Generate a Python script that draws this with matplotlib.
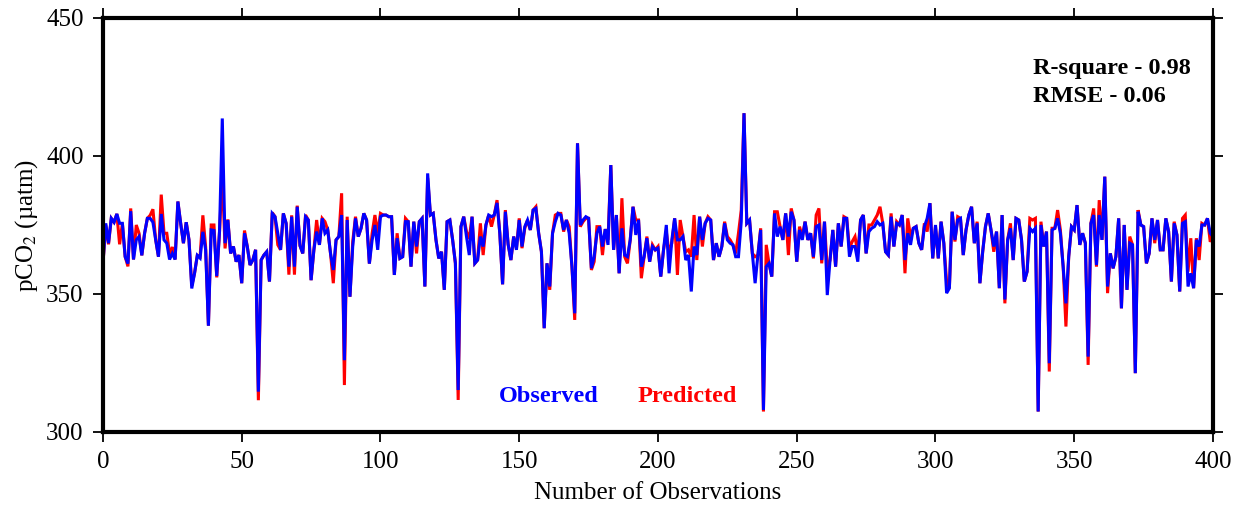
import numpy as np
import matplotlib
matplotlib.use("Agg")
import matplotlib.pyplot as plt

plt.rcParams['font.family'] = ['Liberation Serif', 'DejaVu Serif']
plt.rcParams['mathtext.fontset'] = 'stix'

observed = [
    361.0, 375.6, 368.4, 377.4, 376.0, 379.0, 375.6, 375.6, 363.5, 361.0,
    380.0, 362.5, 369.6, 370.8, 364.0, 372.0, 377.4, 377.4, 376.0, 369.6,
    363.5, 379.0, 369.6, 368.4, 362.5, 364.7, 362.5, 383.5, 375.6, 368.4,
    376.0, 369.6, 352.0, 357.5, 364.0, 363.0, 372.5, 366.0, 338.5, 373.2,
    373.0, 356.5, 372.6, 413.6, 368.4, 376.8, 364.7, 367.2, 361.7, 364.1,
    353.9, 372.0, 367.2, 360.5, 362.3, 366.0, 314.6, 362.3, 364.1, 365.3,
    354.5, 379.2, 378.0, 372.0, 366.0, 379.2, 375.6, 359.9, 378.0, 359.9,
    381.6, 367.5, 364.7, 378.0, 376.8, 355.0, 366.0, 372.6, 367.8, 377.4,
    372.0, 373.2, 364.7, 358.7, 369.6, 370.8, 378.6, 326.0, 376.8, 349.0,
    367.2, 377.4, 370.8, 373.8, 379.2, 376.8, 361.0, 369.6, 375.0, 366.0,
    378.0, 378.6, 378.6, 378.0, 378.0, 356.9, 370.2, 362.9, 363.5, 376.2,
    376.2, 359.9, 376.2, 367.2, 376.2, 377.4, 352.7, 393.7, 378.6, 379.2,
    369.6, 362.9, 365.3, 351.5, 376.2, 376.8, 369.6, 361.1, 315.2, 374.4,
    378.0, 370.8, 364.1, 378.0, 361.1, 362.3, 370.8, 367.2, 375.0, 378.6,
    378.0, 378.6, 383.0, 372.0, 353.5, 379.8, 368.0, 362.3, 370.8, 366.0,
    376.8, 367.2, 374.4, 376.8, 373.2, 380.4, 381.0, 372.0, 365.3, 337.6,
    361.1, 352.7, 372.0, 376.2, 379.2, 378.6, 373.2, 376.8, 372.0, 359.9,
    343.0, 404.6, 375.0, 376.8, 378.0, 377.4, 359.3, 363.5, 372.0, 374.4,
    367.2, 373.5, 367.8, 396.7, 366.0, 378.6, 357.5, 373.8, 364.1, 363.5,
    369.6, 381.6, 371.4, 376.8, 359.9, 363.5, 370.2, 361.7, 367.2, 366.0,
    366.6, 356.3, 366.0, 375.0, 357.5, 369.6, 377.4, 369.6, 369.6, 370.8,
    362.3, 364.1, 350.9, 367.2, 364.1, 378.0, 369.6, 375.6, 377.4, 376.8,
    362.3, 368.4, 363.5, 367.2, 375.6, 369.6, 368.4, 367.8, 363.5, 363.5,
    376.2, 415.5, 375.6, 376.8, 364.7, 353.9, 364.1, 373.2, 308.0, 359.9,
    361.1, 356.3, 379.2, 370.8, 374.4, 369.6, 379.2, 370.8, 379.8, 376.8,
    361.7, 373.2, 369.6, 376.2, 369.6, 372.0, 363.5, 374.4, 375.0, 362.3,
    376.2, 349.6, 362.3, 373.2, 359.9, 375.6, 367.2, 377.4, 377.4, 363.5,
    367.2, 367.2, 361.7, 376.8, 378.6, 364.7, 372.6, 373.8, 374.4, 376.2,
    375.0, 375.6, 365.3, 364.1, 378.0, 367.2, 375.6, 375.0, 378.6, 362.3,
    372.0, 367.8, 373.8, 374.4, 368.4, 366.0, 374.4, 377.4, 382.9, 362.9,
    375.0, 362.9, 376.2, 368.4, 350.3, 352.1, 379.8, 369.6, 376.8, 377.4,
    364.1, 373.2, 378.6, 381.6, 368.4, 375.6, 353.9, 365.3, 374.4, 379.2,
    373.2, 367.2, 372.6, 352.1, 378.6, 348.0, 369.6, 373.8, 362.3, 377.4,
    376.8, 369.6, 354.5, 358.1, 373.8, 372.6, 373.8, 307.4, 375.0, 367.2,
    372.6, 324.9, 373.2, 373.8, 377.4, 372.0, 359.9, 346.6, 363.5, 374.4,
    373.2, 382.2, 367.8, 372.0, 368.4, 327.3, 375.6, 378.6, 360.5, 378.6,
    369.6, 392.5, 352.7, 364.7, 359.3, 363.5, 377.4, 344.8, 375.0, 351.5,
    368.4, 367.8, 321.3, 379.8, 375.0, 374.4, 361.1, 364.7, 377.4, 369.6,
    376.8, 366.0, 366.0, 377.4, 372.6, 354.5, 375.6, 371.4, 350.9, 375.6,
    376.2, 352.7, 357.5, 352.1, 369.6, 367.2, 375.0, 375.0, 377.4, 372.0,
    370.8,
]

predicted = [
    361.0, 375.0, 368.0, 377.4, 376.0, 379.0, 368.0, 375.6, 363.5, 360.0,
    381.0, 362.5, 375.0, 372.0, 364.0, 372.0, 377.4, 378.5, 380.7, 369.6,
    363.5, 386.0, 372.0, 372.0, 364.5, 367.0, 362.5, 383.5, 375.6, 368.4,
    376.0, 369.6, 353.0, 357.5, 364.0, 363.5, 378.5, 367.0, 338.5, 375.0,
    375.0, 356.0, 372.6, 393.0, 366.5, 377.0, 364.7, 367.2, 361.7, 364.1,
    353.9, 373.0, 367.2, 360.5, 362.3, 366.0, 311.5, 362.3, 364.1, 365.3,
    354.5, 379.5, 378.0, 367.8, 366.0, 379.2, 375.6, 357.0, 378.5, 357.0,
    382.0, 367.5, 364.7, 378.6, 376.8, 355.0, 366.0, 376.8, 367.8, 377.4,
    376.2, 373.2, 364.7, 353.9, 369.6, 370.8, 386.5, 317.0, 378.0, 349.0,
    369.0, 378.0, 370.8, 373.8, 379.2, 376.8, 361.0, 372.0, 378.6, 372.0,
    379.2, 378.6, 378.6, 378.0, 378.0, 356.9, 372.0, 362.9, 363.5, 377.4,
    376.2, 359.9, 376.2, 364.7, 376.2, 377.4, 352.7, 392.0, 378.6, 379.2,
    369.6, 362.9, 365.3, 351.5, 376.2, 376.8, 369.6, 361.1, 311.6, 374.4,
    378.0, 372.6, 370.0, 378.0, 361.1, 362.3, 375.6, 364.1, 375.0, 378.6,
    374.4, 378.6, 384.0, 372.0, 353.5, 380.4, 368.0, 362.3, 370.8, 366.5,
    377.4, 366.6, 373.8, 376.8, 373.2, 380.4, 381.6, 372.0, 365.3, 337.6,
    361.1, 351.5, 372.0, 378.6, 379.2, 379.2, 372.6, 376.8, 374.4, 359.9,
    340.6, 404.6, 374.4, 376.2, 377.4, 377.4, 358.7, 361.7, 374.4, 374.4,
    364.1, 373.5, 369.6, 396.7, 366.0, 378.6, 357.5, 384.7, 363.5, 361.1,
    369.6, 381.6, 376.8, 376.8, 355.7, 363.5, 370.8, 361.7, 367.8, 366.0,
    367.2, 356.3, 366.0, 372.6, 365.0, 368.4, 377.4, 356.9, 376.8, 370.8,
    365.3, 366.0, 363.5, 378.6, 362.3, 378.0, 367.2, 375.6, 378.0, 376.8,
    362.3, 368.4, 363.5, 367.2, 376.2, 370.8, 369.6, 367.8, 364.7, 372.0,
    380.4, 415.5, 375.6, 376.8, 364.7, 363.5, 364.1, 373.8, 307.4, 367.8,
    361.1, 356.3, 379.8, 379.8, 374.4, 369.6, 379.2, 364.1, 381.0, 376.8,
    361.7, 374.4, 370.8, 376.2, 369.6, 372.0, 362.9, 378.6, 381.0, 361.1,
    376.2, 358.7, 362.3, 373.2, 359.9, 375.6, 367.2, 378.0, 377.4, 366.6,
    369.0, 370.8, 364.7, 376.8, 378.6, 364.7, 375.0, 375.0, 376.8, 378.6,
    381.6, 375.6, 365.3, 364.1, 379.2, 367.2, 376.2, 375.0, 378.6, 357.5,
    377.4, 370.8, 373.8, 374.4, 368.4, 366.0, 375.6, 372.6, 382.9, 362.9,
    374.4, 362.9, 376.2, 368.4, 354.5, 352.1, 379.8, 369.0, 378.0, 377.4,
    364.1, 373.2, 378.6, 381.6, 368.4, 376.2, 353.9, 365.3, 374.4, 379.2,
    373.2, 365.3, 372.6, 352.1, 378.6, 346.6, 369.6, 375.6, 362.3, 377.4,
    376.8, 369.6, 354.5, 358.1, 377.4, 376.8, 377.4, 307.4, 376.2, 367.2,
    372.6, 321.9, 373.8, 373.8, 380.4, 373.2, 359.9, 338.2, 363.5, 374.4,
    373.2, 382.2, 367.8, 372.0, 368.4, 324.3, 375.6, 381.0, 359.9, 384.0,
    369.6, 392.5, 350.3, 364.7, 359.3, 363.5, 377.4, 344.8, 375.0, 351.5,
    370.8, 367.8, 321.3, 380.4, 375.0, 374.4, 361.1, 364.7, 377.4, 368.4,
    376.8, 366.0, 366.0, 377.4, 372.6, 354.5, 376.2, 371.4, 350.9, 377.4,
    378.6, 358.1, 370.2, 352.1, 370.2, 362.3, 375.6, 375.0, 377.4, 368.9,
    370.8,
]

x_ticks = [0, 50, 100, 150, 200, 250, 300, 350, 400]
y_ticks = [300, 350, 400, 450]

obs_idx = np.arange(len(observed))

fig = plt.figure(figsize=(12.36, 5.07), dpi=100)
ax = fig.add_axes([0.0833, 0.148, 0.8981, 0.8165])

ax.plot(obs_idx, predicted, color='#ff0000', lw=2.2, solid_joinstyle='miter')
ax.plot(obs_idx, observed, color='#0000ff', lw=2.2, solid_joinstyle='miter')

ax.set_xlim(0, 400)
ax.set_ylim(300, 450)
ax.set_xticks(x_ticks)
ax.set_yticks(y_ticks)

for side in ['left', 'right', 'top', 'bottom']:
    ax.spines[side].set_linewidth(3)
    ax.spines[side].set_color('black')

ax.tick_params(axis='both', which='major', direction='out', length=7, width=1.3,
               labelsize=18, top=True, right=True, labeltop=False, labelright=False,
               pad=7)

ax.set_xlabel('Number of Observations', fontsize=18, labelpad=6)
ax.set_ylabel('pCO$_2$ (µatm)', fontsize=18, labelpad=4)

ax.text(0.838, 0.878, 'R-square - 0.98', transform=ax.transAxes, fontsize=17.5,
        fontweight='bold', ha='left', va='center')
ax.text(0.838, 0.810, 'RMSE - 0.06', transform=ax.transAxes, fontsize=17.5,
        fontweight='bold', ha='left', va='center')

ax.text(0.402, 0.085, 'Observed', transform=ax.transAxes, fontsize=17.5,
        fontweight='bold', color='#0000ff', ha='center', va='center')
ax.text(0.526, 0.085, 'Predicted', transform=ax.transAxes, fontsize=17.5,
        fontweight='bold', color='#ff0000', ha='center', va='center')

fig.savefig('out.png', dpi=100)
